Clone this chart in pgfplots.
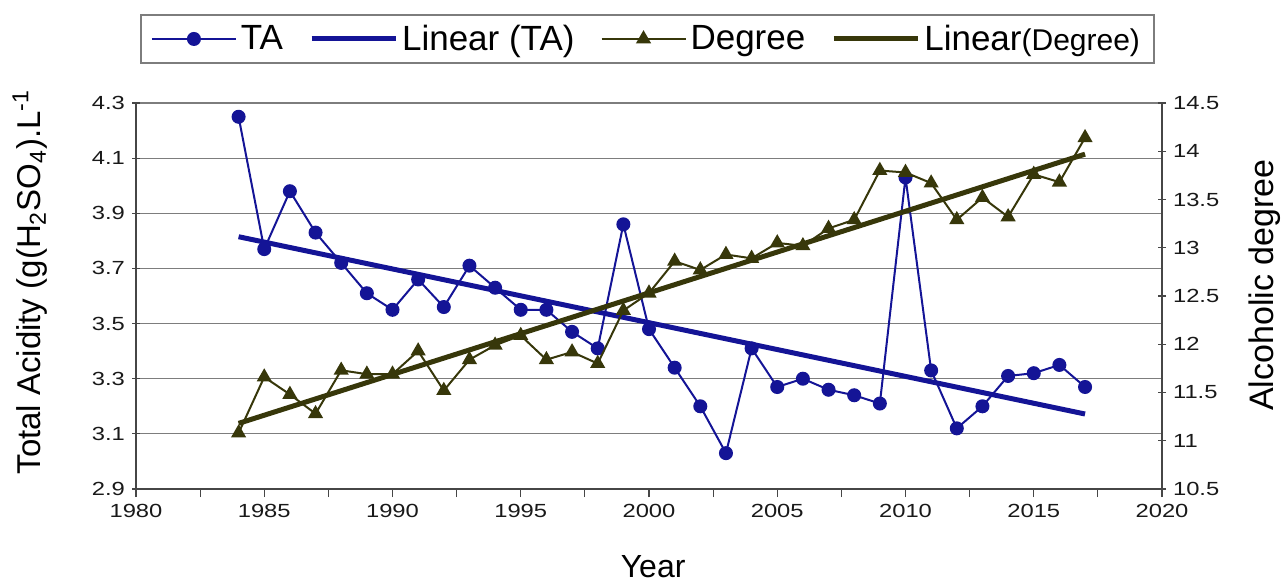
\documentclass[border=0pt]{standalone}
\usepackage{fontspec}
\setmainfont{Liberation Sans}
\newfontfamily\tickfont[FakeStretch=1.25]{Liberation Sans}
\usepackage{pgfplots}
\pgfplotsset{compat=1.18}

\definecolor{ta}{RGB}{20,20,150}
\definecolor{deg}{RGB}{55,55,10}
\definecolor{gridc}{RGB}{125,125,125}
\definecolor{axc}{RGB}{70,70,70}

\pgfplotsset{
  base/.style={
    scale only axis, width=513pt, height=193pt,
    xmin=1980, xmax=2020,
    tick label style={font=\tickfont\fontsize{9.5}{10}\selectfont, text=black!90},
    /pgf/number format/assume math mode=true,
    /pgf/number format/1000 sep={},
    axis line style={axc, line width=0.8pt},
    major tick length=4pt, minor tick length=4pt,
    tick style={axc, line width=0.6pt},
    tick align=center,
  },
  linelegend/.style={legend image code/.code={%
    \draw[mark repeat=2,mark phase=2,##1] plot coordinates {(0pt,0pt) (21pt,0pt) (42pt,0pt)};}},
}

\begin{document}
\begin{tikzpicture}
\begin{axis}[base,
  axis x line*=bottom, axis y line*=left,
  ymin=2.9, ymax=4.3,
  ytick={2.9,3.1,3.3,3.5,3.7,3.9,4.1,4.3},
  yticklabel style={/pgf/number format/.cd, fixed, fixed zerofill, precision=1},
  xtick={1980,1985,1990,1995,2000,2005,2010,2015,2020},
  minor x tick num=1,
  xtick style={yshift=-2pt},
  xticklabel style={yshift=-2pt},
  ymajorgrids, major grid style={gridc, line width=0.6pt},
  xlabel={Year},
  xlabel style={at={(axis description cs:0.504,0)}, anchor=center, yshift=-39pt,
    font=\fontsize{16}{18}\selectfont},
  ylabel={Total Acidity (g(H\textsubscript{2}SO\textsubscript{4}).L\textsuperscript{-1}},
  ylabel style={at={(axis description cs:-0.1033,0.536)}, anchor=center,
    font=\fontsize{16.5}{18}\selectfont},
]
  % TA
  \addplot[ta, line width=1pt, mark=*, mark size=3pt, mark options={solid, fill=ta}] coordinates {
    (1984,4.25) (1985,3.77) (1986,3.98) (1987,3.83) (1988,3.72) (1989,3.61)
    (1990,3.55) (1991,3.66) (1992,3.56) (1993,3.71) (1994,3.63) (1995,3.55)
    (1996,3.55) (1997,3.47) (1998,3.41) (1999,3.86) (2000,3.48) (2001,3.34)
    (2002,3.20) (2003,3.03) (2004,3.41) (2005,3.27) (2006,3.30) (2007,3.26)
    (2008,3.24) (2009,3.21) (2010,4.03) (2011,3.33) (2012,3.12) (2013,3.20)
    (2014,3.31) (2015,3.32) (2016,3.35) (2017,3.27)};
  % Linear (TA)
  \addplot[ta, line width=2.5pt] coordinates {(1984,3.815) (2017,3.172)};
  \coordinate (sw) at (rel axis cs:0,0);
  \coordinate (ne) at (rel axis cs:1,1);
\end{axis}

\begin{axis}[base,
  axis x line=none, axis y line*=right,
  ymin=10.5, ymax=14.5,
  ytick={10.5,11,11.5,12,12.5,13,13.5,14,14.5},
  ylabel={Alcoholic degree},
  ylabel style={at={(axis description cs:1.1004,0.528)}, anchor=center,
    font=\fontsize{17}{19}\selectfont},
  legend columns=4,
  legend style={at={(axis description cs:0.4985,1.2306)}, anchor=north,
    draw=gridc, line width=0.8pt, inner xsep=5pt, inner ysep=3pt,
    font=\fontsize{17.5}{20}\selectfont,
    /tikz/every even column/.append style={column sep=11pt}},
  linelegend,
]
  % Degree
  \addplot[forget plot, deg, line width=1pt, mark=triangle*, mark size=3.4pt, mark options={solid, fill=deg}] coordinates {
    (1984,11.08) (1985,11.66) (1986,11.48) (1987,11.28) (1988,11.73) (1989,11.69)
    (1990,11.69) (1991,11.93) (1992,11.52) (1993,11.84) (1994,11.99) (1995,12.09)
    (1996,11.84) (1997,11.92) (1998,11.80) (1999,12.35) (2000,12.53) (2001,12.86)
    (2002,12.77) (2003,12.93) (2004,12.89) (2005,13.05) (2006,13.02) (2007,13.20)
    (2008,13.29) (2009,13.80) (2010,13.78) (2011,13.67) (2012,13.29) (2013,13.52)
    (2014,13.32) (2015,13.76) (2016,13.68) (2017,14.14)};
  % Linear (Degree)
  \addplot[forget plot, deg, line width=2.5pt] coordinates {(1984,11.18) (2017,13.97)};
  \addlegendimage{ta, line width=1pt, mark=*, mark size=3pt, mark options={solid, fill=ta}}
  \addlegendentry{TA}
  \addlegendimage{ta, line width=2.5pt}
  \addlegendentry{Linear (TA)}
  \addlegendimage{deg, line width=1pt, mark=triangle*, mark size=3.4pt, mark options={solid, fill=deg}}
  \addlegendentry{Degree}
  \addlegendimage{deg, line width=2.5pt}
  \addlegendentry{Linear{\fontsize{15}{18}\selectfont(Degree)}}
\end{axis}
\pgfresetboundingbox
\path[use as bounding box] ([shift={(-68pt,-47.5pt)}]sw) rectangle ([shift={(60.5pt,51.5pt)}]ne);
\end{tikzpicture}
\end{document}
